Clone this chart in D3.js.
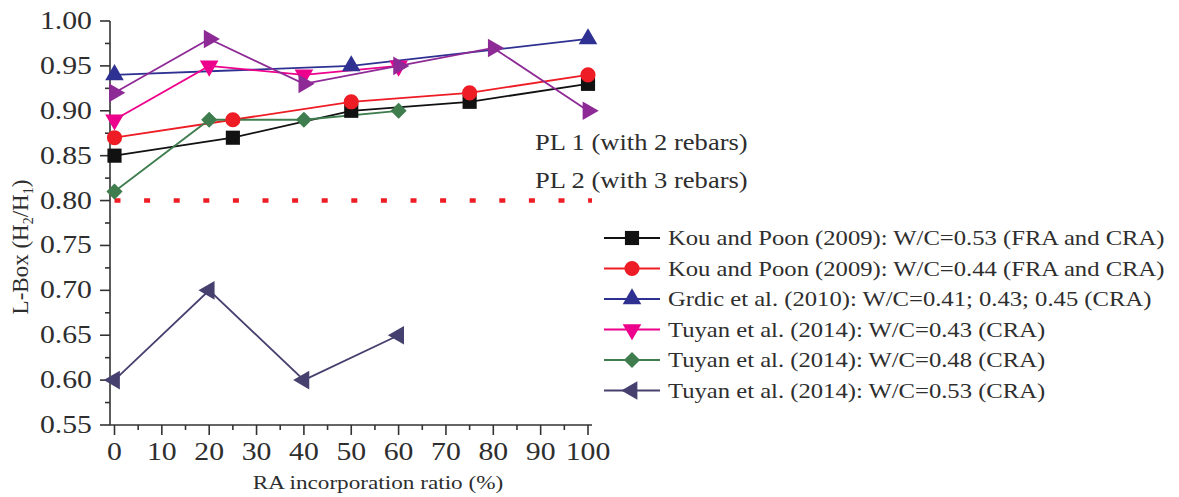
<!DOCTYPE html>
<html><head><meta charset="utf-8">
<script src="https://cdn.jsdelivr.net/npm/d3@7"></script>
<style>html,body{margin:0;padding:0;background:#fff;}svg{display:block;}</style>
</head><body>
<script>
// ---- data ----
const xTicks = [0,10,20,30,40,50,60,70,80,90,100];
const yTicks = [0.55,0.60,0.65,0.70,0.75,0.80,0.85,0.90,0.95,1.00];
const kou053X = [0,25,50,75,100];
const kou053Y = [0.85,0.87,0.90,0.91,0.93];
const kou044X = [0,25,50,75,100];
const kou044Y = [0.87,0.89,0.91,0.92,0.94];
const grdicX = [0,50,100];
const grdicY = [0.94,0.95,0.98];
const tuyan043X = [0,20,40,60];
const tuyan043Y = [0.89,0.95,0.94,0.95];
const tuyan048X = [0,20,40,60];
const tuyan048Y = [0.81,0.89,0.89,0.90];
const tuyan053X = [0,20,40,60];
const tuyan053Y = [0.60,0.70,0.60,0.65];
const extraX = [0,20,40,60,80,100];
const extraY = [0.92,0.98,0.93,0.95,0.97,0.90];
const plLevel = 0.80;
const legendLabels = [
  "Kou and Poon (2009): W/C=0.53 (FRA and CRA)",
  "Kou and Poon (2009): W/C=0.44 (FRA and CRA)",
  "Grdic et al. (2010): W/C=0.41; 0.43; 0.45 (CRA)",
  "Tuyan et al. (2014): W/C=0.43 (CRA)",
  "Tuyan et al. (2014): W/C=0.48 (CRA)",
  "Tuyan et al. (2014): W/C=0.53 (CRA)"
];
const plLabels = ["PL 1 (with 2 rebars)", "PL 2 (with 3 rebars)"];

const series = [
  {x:kou053X, y:kou053Y, color:"#111111", sym:"square", legend:0},
  {x:kou044X, y:kou044Y, color:"#ee1c24", sym:"circle", legend:1},
  {x:grdicX, y:grdicY, color:"#2e3192", sym:"up", legend:2},
  {x:tuyan048X, y:tuyan048Y, color:"#3f7d4e", sym:"diamond", legend:4},
  {x:tuyan043X, y:tuyan043Y, color:"#ec008c", sym:"down", legend:3},
  {x:extraX, y:extraY, color:"#8e2a96", sym:"right", legend:-1},
  {x:tuyan053X, y:tuyan053Y, color:"#46406e", sym:"left", legend:5}
];
// ---- layout ----
const W=1179, H=497;
const SX = 1.19;
const TXT = "#2e2e2e";
const FONT = "'Liberation Serif','Times New Roman',serif";
const svg = d3.select("body").append("svg").attr("width",W).attr("height",H);
const x = d3.scaleLinear().domain([0,100]).range([114.5,588]);
const y = d3.scaleLinear().domain([0.55,1.0]).range([425,21]);

function stxt(g, px, py, str, anchor, size){
  return g.append("text").attr("transform",`translate(${px},${py}) scale(${SX},1)`)
    .attr("text-anchor",anchor).attr("font-family",FONT).attr("font-size",size)
    .attr("fill",TXT).text(str);
}

// axes
const axG = svg.append("g").attr("stroke","#333").attr("stroke-width",1.6).attr("fill","none");
axG.append("line").attr("x1",110).attr("x2",110).attr("y1",y(1.0)).attr("y2",y(0.55));
axG.append("line").attr("x1",110).attr("x2",592).attr("y1",y(0.55)).attr("y2",y(0.55));
yTicks.forEach(v=>{
  axG.append("line").attr("x1",100).attr("x2",110).attr("y1",y(v)).attr("y2",y(v));
});
d3.range(0,9).map(i=>0.575+i*0.05).forEach(v=>{
  axG.append("line").attr("x1",105).attr("x2",110).attr("y1",y(v)).attr("y2",y(v));
});
xTicks.forEach(v=>{
  axG.append("line").attr("x1",x(v)).attr("x2",x(v)).attr("y1",425).attr("y2",435);
});
d3.range(0,10).map(i=>5+i*10).forEach(v=>{
  axG.append("line").attr("x1",x(v)).attr("x2",x(v)).attr("y1",425).attr("y2",430);
});
const tl = svg.append("g");
yTicks.forEach(v=>{ stxt(tl, 92, y(v)+8, v.toFixed(2), "end", 25); });
xTicks.forEach(v=>{ stxt(tl, x(v), 460, String(v), "middle", 25); });

// axis titles
stxt(svg, 378, 489, "RA  incorporation ratio (%)", "middle", 19.5);
const yl = svg.append("text").attr("transform","translate(28,247) rotate(-90)")
  .attr("text-anchor","middle").attr("font-family",FONT).attr("font-size",23).attr("fill",TXT);
yl.append("tspan").text("L-Box (H");
yl.append("tspan").attr("font-size",14).attr("dy",5).text("2");
yl.append("tspan").attr("dy",-5).text("/H");
yl.append("tspan").attr("font-size",14).attr("dy",5).text("1");
yl.append("tspan").attr("dy",-5).text(")");

// PL line
svg.append("line").attr("x1",x(0)).attr("x2",x(100)+4).attr("y1",y(plLevel)).attr("y2",y(plLevel))
  .attr("stroke","#ee1c24").attr("stroke-width",4.5).attr("stroke-dasharray","6,23.6");
stxt(svg, 535, 150, plLabels[0], "start", 22.3);
stxt(svg, 535, 188, plLabels[1], "start", 22.3);

// symbols
function symPath(s){
  switch(s){
    case "square": return {d:d3.symbol(d3.symbolSquare,200)(), r:0};
    case "circle": return {d:d3.symbol(d3.symbolCircle,180)(), r:0};
    case "up": return {d:d3.symbol(d3.symbolTriangle,150)(), r:0};
    case "down": return {d:d3.symbol(d3.symbolTriangle,150)(), r:180};
    case "left": return {d:d3.symbol(d3.symbolTriangle,150)(), r:-90};
    case "right": return {d:d3.symbol(d3.symbolTriangle,150)(), r:90};
    case "diamond": return {d:d3.symbol(d3.symbolSquare,130)(), r:45};
  }
}
const line = d3.line().x(d=>x(d[0])).y(d=>y(d[1]));
series.forEach(s=>{
  const pts = s.x.map((v,i)=>[v,s.y[i]]);
  svg.append("path").datum(pts).attr("d",line).attr("fill","none")
    .attr("stroke",s.color).attr("stroke-width",1.8);
});
series.forEach(s=>{
  const pts = s.x.map((v,i)=>[v,s.y[i]]);
  const sp = symPath(s.sym);
  svg.append("g").selectAll("path").data(pts).join("path")
    .attr("d",sp.d).attr("fill",s.color)
    .attr("transform",d=>`translate(${x(d[0])},${y(d[1])}) rotate(${sp.r})`);
});

// legend
const legRows = [238,268.5,299,329.5,360,390.5];
const leg = svg.append("g");
series.filter(s=>s.legend>=0).forEach(s=>{
  const ry = legRows[s.legend];
  leg.append("line").attr("x1",604).attr("x2",660).attr("y1",ry).attr("y2",ry)
    .attr("stroke",s.color).attr("stroke-width",1.8);
  const sp = symPath(s.sym);
  leg.append("path").attr("d",sp.d).attr("fill",s.color)
    .attr("transform",`translate(632,${ry}) rotate(${sp.r})`);
  stxt(leg, 668, ry+7, legendLabels[s.legend], "start", 20.7);
});
</script>
</body></html>
